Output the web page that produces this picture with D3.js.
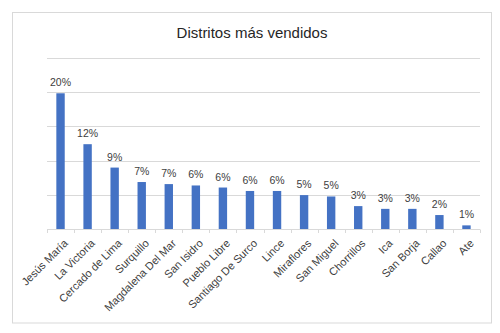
<!DOCTYPE html>
<html>
<head>
<meta charset="utf-8">
<script src="https://cdn.jsdelivr.net/npm/d3@7"></script>
<style>
  html, body { margin: 0; padding: 0; background: #fff; }
  svg { display: block; }
</style>
</head>
<body>
<svg id="chart" width="500" height="333"></svg>
<script>
const categories = ["Jesús María","La Victoria","Cercado de Lima","Surquillo","Magdalena Del Mar","San Isidro","Pueblo Libre","Santiago De Surco","Lince","Miraflores","San Miguel","Chorrillos","Ica","San Borja","Callao","Ate"];
const values = [19.8, 12.4, 9.0, 6.9, 6.6, 6.4, 6.1, 5.6, 5.6, 5.0, 4.8, 3.4, 3.0, 3.0, 2.1, 0.6];
const valueLabels = ["20%","12%","9%","7%","7%","6%","6%","6%","6%","5%","5%","3%","3%","3%","2%","1%"];
const yTicks = [0, 5, 10, 15, 20, 25];
const title = "Distritos más vendidos";

const svg = d3.select("#chart");
const font = "'Liberation Sans', Arial, sans-serif";

svg.append("rect").attr("x", 12.5).attr("y", 12.5).attr("width", 479).attr("height", 310.5)
  .attr("fill", "#fff").attr("stroke", "#d9d9d9").attr("stroke-width", 1);

svg.append("text").attr("x", 252).attr("y", 37.5).attr("text-anchor", "middle")
  .attr("font-family", font).attr("font-size", 15).attr("fill", "#262626").text(title);

const x = d3.scaleBand().domain(categories).range([47, 480]).paddingInner(0.69).paddingOuter(0.345);
const y = d3.scaleLinear().domain([0, 25]).range([229.5, 57.5]);

svg.append("g").selectAll("line").data(yTicks.slice(1)).join("line")
  .attr("x1", 47).attr("x2", 480)
  .attr("y1", d => Math.round(y(d)) + 0.5).attr("y2", d => Math.round(y(d)) + 0.5)
  .attr("stroke", "#d9d9d9").attr("stroke-width", 1);

svg.append("g").selectAll("rect").data(values).join("rect")
  .attr("x", (d, i) => x(categories[i]))
  .attr("width", x.bandwidth())
  .attr("y", d => y(d))
  .attr("height", d => y(0) - y(d))
  .attr("fill", "#4472c4");

// baseline axis
svg.append("line").attr("x1", 47).attr("x2", 480).attr("y1", 229.5).attr("y2", 229.5)
  .attr("stroke", "#d9d9d9");
svg.append("g").selectAll("line").data(d3.range(categories.length + 1)).join("line")
  .attr("x1", i => Math.round(47 + i * (433 / categories.length)) + 0.5)
  .attr("x2", i => Math.round(47 + i * (433 / categories.length)) + 0.5)
  .attr("y1", 229.5).attr("y2", 233)
  .attr("stroke", "#d9d9d9");

svg.append("g").selectAll("text").data(values).join("text")
  .attr("x", (d, i) => x(categories[i]) + x.bandwidth() / 2)
  .attr("y", d => y(d) - 7)
  .attr("text-anchor", "middle")
  .attr("font-family", font).attr("font-size", 10.5).attr("fill", "#404040")
  .text((d, i) => valueLabels[i]);

svg.append("g").selectAll("text").data(categories).join("text")
  .attr("transform", d => `translate(${x(d) + x.bandwidth() / 2 + 8},${244}) rotate(-45)`)
  .attr("text-anchor", "end")
  .attr("font-family", font).attr("font-size", 11).attr("fill", "#404040")
  .text(d => d);
</script>
</body>
</html>
